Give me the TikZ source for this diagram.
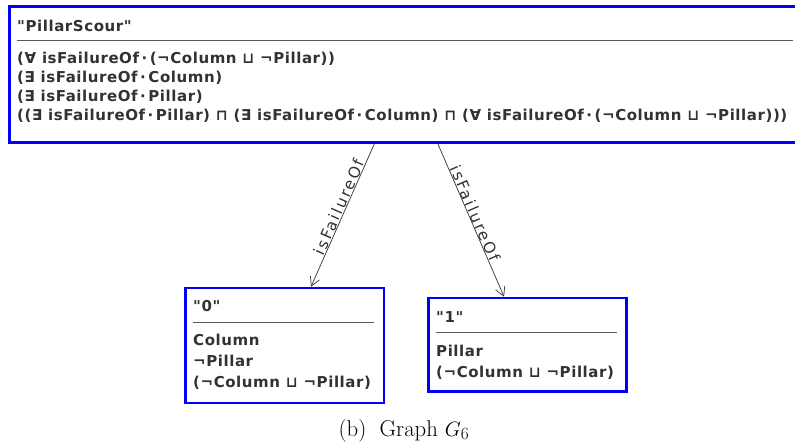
\documentclass[tikz,border=0pt]{standalone}
\usepackage{fontspec}
\usetikzlibrary{arrows.meta,calc}
\newfontfamily\boxfont{DejaVu Sans}[LetterSpace=3.8]
\newfontfamily\rolefont{DejaVu Sans}[LetterSpace=14.0]
\definecolor{conceptblue}{RGB}{0,0,245}
\definecolor{labelgrey}{RGB}{50,50,50}
\definecolor{rulegrey}{RGB}{90,90,90}
\begin{document}
\begin{tikzpicture}[x=1pt,y=-1pt,
  conceptbox/.style={draw=conceptblue,line width=2.6pt,fill=white,inner sep=0pt},
  boxtext/.style={anchor=base west,inner sep=0pt,text=labelgrey,
    font=\boxfont\bfseries\fontsize{15}{17}\selectfont},
  boxrule/.style={draw=rulegrey,line width=0.9pt},
  rolearrow/.style={draw=labelgrey,line width=0.7pt,-{Straight Barb[length=9pt,width=10pt,line width=0.7pt]}},
  rolelabel/.style={sloped,above,inner sep=0.4pt,text=labelgrey,
    font=\rolefont\fontsize{15.5}{18}\selectfont}]
\useasboundingbox (0,0) rectangle (795,446);

% top concept box
\node[conceptbox,anchor=north west,minimum width=792pt,minimum height=136pt] (top) at (8,5.3) {};
\node[boxtext] (tname) at (17,31.5) {"PillarScour"};
\draw[boxrule] (17,40.7) -- (793,40.7);
\node[boxtext] (t1) at (17,63.3) {(∀ isFailureOf\,·\,(¬Column ⊔ ¬Pillar))};
\node[boxtext] (t2) at (17,82.3) {(∃ isFailureOf\,·\,Column)};
\node[boxtext] (t3) at (17,101.5) {(∃ isFailureOf\,·\,Pillar)};
\node[boxtext] (t4) at (17,120.5) {((∃ isFailureOf\,·\,Pillar) ⊓ (∃ isFailureOf\,·\,Column) ⊓ (∀ isFailureOf\,·\,(¬Column ⊔ ¬Pillar)))};

% node "0"
\node[conceptbox,anchor=north west,minimum width=198.7pt,minimum height=115pt] (b0) at (184,286.7) {};
\node[boxtext] (b0name) at (193,312) {"0"};
\draw[boxrule] (193,322.3) -- (374,322.3);
\node[boxtext] (b0a) at (193,345) {Column};
\node[boxtext] (b0b) at (193,366.5) {¬Pillar};
\node[boxtext] (b0c) at (193,387.5) {(¬Column ⊔ ¬Pillar)};

% node "1"
\node[conceptbox,anchor=north west,minimum width=198pt,minimum height=93.3pt] (b1) at (427,296.7) {};
\node[boxtext] (b1name) at (436,322.5) {"1"};
\draw[boxrule] (436,332.3) -- (617,332.3);
\node[boxtext] (b1a) at (436,356) {Pillar};
\node[boxtext] (b1b) at (436,377) {(¬Column ⊔ ¬Pillar)};

% role edges
\draw[rolearrow] ($(top.south west)!0.461!(top.south east)$) --
  node[rolelabel,pos=0.46] {isFailureOf} ($(b0.north west)!0.631!(b0.north east)$);
\draw[rolearrow] ($(top.south west)!0.541!(top.south east)$) --
  node[rolelabel,pos=0.47] {isFailureOf} ($(b1.north west)!0.384!(b1.north east)$);

% caption
\node[anchor=base,inner sep=0pt,font=\fontsize{22.8}{27}\selectfont] (cap) at (404,436) {(b)\; Graph $G_6$};
\end{tikzpicture}
\end{document}
